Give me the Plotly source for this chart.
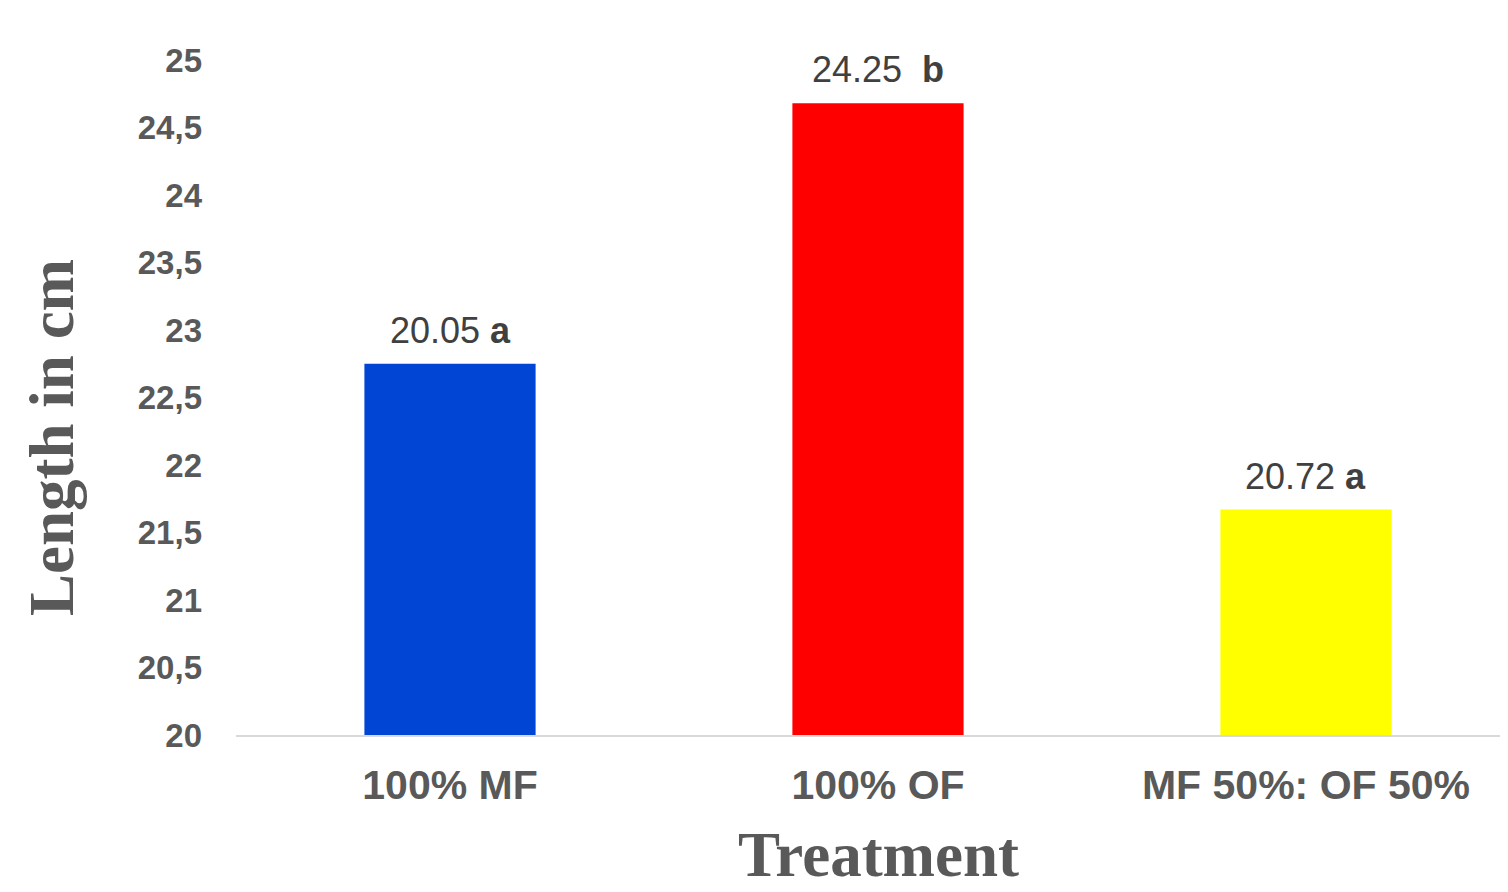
import plotly.graph_objects as go

categories = ["100% MF", "100% OF", "MF 50%: OF 50%"]
bar_heights = [22.75, 24.68, 21.67]
value_labels = ["20.05", "24.25", "20.72"]
letters = ["a", "b", "a"]
colors = ["#0045D4", "#FF0000", "#FFFF00"]
ytick_vals = [20, 20.5, 21, 21.5, 22, 22.5, 23, 23.5, 24, 24.5, 25]
ytick_text = ["20", "20,5", "21", "21,5", "22", "22,5", "23", "23,5", "24", "24,5", "25"]
x_title = "Treatment"
y_title = "Length in cm"

fig = go.Figure()
fig.add_trace(go.Bar(
    x=categories, y=bar_heights,
    marker=dict(color=colors, line=dict(width=0)),
    width=0.40, cliponaxis=False,
))

for i, c in enumerate(categories):
    sep = "  " if letters[i] == "b" else " "
    fig.add_annotation(
        x=c, y=bar_heights[i], yanchor="bottom", yshift=11,
        text=f"{value_labels[i]}{sep}<b>{letters[i]}</b>",
        showarrow=False,
        font=dict(family="Arial, Liberation Sans", size=36, color="#404040"),
    )

title_font = dict(family="Liberation Serif, Times New Roman", size=63, color="#595959")
fig.add_annotation(
    xref="paper", yref="paper", x=0.5055, y=-0.178,
    xanchor="center", yanchor="middle",
    text=f"<b>{x_title}</b>", showarrow=False, font=title_font,
)
fig.add_annotation(
    xref="paper", yref="paper", x=-0.1447, y=0.4415,
    xanchor="center", yanchor="middle", textangle=-90,
    text=f"<b>{y_title}</b>", showarrow=False, font=title_font,
)

fig.update_layout(
    width=1500, height=884,
    margin=dict(l=228, r=0, t=52, b=157),
    paper_bgcolor="white", plot_bgcolor="white",
    showlegend=False,
)
fig.update_xaxes(
    range=[-0.5, 2.472],
    showline=True, linecolor="#d9d9d9", linewidth=2,
    showgrid=False, zeroline=False, ticks="",
    tickfont=dict(family="Arial, Liberation Sans", size=41, color="#595959", weight="bold"),
    ticklabelstandoff=13,
)
fig.update_yaxes(
    range=[20, 25],
    showline=False, showgrid=False, zeroline=False, ticks="",
    tickvals=ytick_vals, ticktext=ytick_text,
    tickfont=dict(family="Arial, Liberation Sans", size=33, color="#595959", weight="bold"),
    ticklabelstandoff=33,
)

fig.write_html("out.html")
